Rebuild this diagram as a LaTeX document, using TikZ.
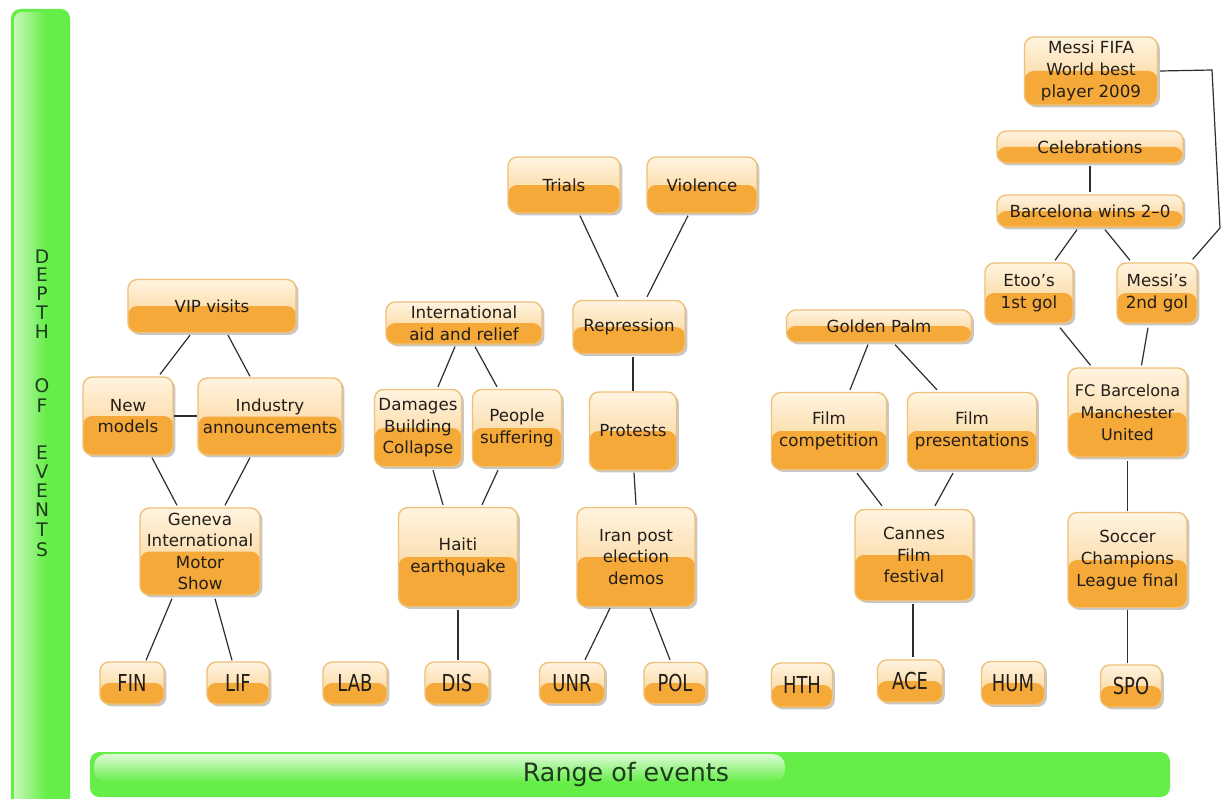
\documentclass[tikz,border=0pt]{standalone}
\usepackage{fontspec}
\setmainfont{DejaVu Sans}
\newfontfamily\codefont[FakeStretch=0.77]{DejaVu Sans}
\usetikzlibrary{calc,shadows}
\definecolor{boxTopA}{HTML}{FFF4E0}
\definecolor{boxTopB}{HTML}{F9CC86}
\definecolor{boxBot}{HTML}{F5A938}
\definecolor{boxEdge}{HTML}{F0C078}
\definecolor{txt}{HTML}{231E1A}
\definecolor{barG}{HTML}{66EE48}
\definecolor{barL}{HTML}{C6F8BC}
\definecolor{lineC}{HTML}{2E2E2E}
\definecolor{barTxt}{HTML}{1E3B1E}
\begin{document}
\begin{tikzpicture}[x=0.75pt,y=-0.75pt,
  ev/.style={rounded corners=7pt, draw=boxEdge, line width=1pt,
    top color=boxTopA, bottom color=boxTopB, inner sep=0pt, align=center,
    font=\fontsize{12.5}{16.2}\selectfont, text=txt,
    drop shadow={shadow xshift=1.8pt, shadow yshift=-1.8pt, fill=black, opacity=0.22},
    path picture={\fill[boxBot] (path picture bounding box.south west) rectangle
      ($(path picture bounding box.north east)!0.5!(path picture bounding box.south east)$);}},
  codebox/.style={ev, font=\codefont\fontsize{17.5}{17.5}\selectfont},
  sz/.style 2 args={minimum width=#1*0.75pt, minimum height=#2*0.75pt},
  conn/.style={draw=lineC, line width=0.9pt},
  letter/.style={font=\fontsize{14}{14}\selectfont, text=barTxt, inner sep=0pt}]
\fill[white] (0,0) rectangle (1222,799);
\useasboundingbox (0,0) rectangle (1222,799);

% green bars
\fill[barG, rounded corners=7] (11,9) rectangle (70,830);
\shade[left color=barL, right color=barG, rounded corners=6] (14,12) rectangle (46,830);
\fill[barG, rounded corners=7] (90,752) rectangle (1170,797);
\shade[top color=barL!60!white, bottom color=barG, rounded corners=9] (94,754) rectangle (785,782);
\node[font=\fontsize{19}{19}\selectfont, text=barTxt] (range) at (626,775) {Range of events};
\foreach \ch/\yy [count=\i] in {D/257,E/275,P/294,T/313,H/332,O/386,F/406,E/453,V/472,E/491,N/510,T/530,S/550}
  \node[letter] (dep\i) at (42,\yy) {\ch};

% left group
\node[ev,sz={168}{53}] (vip) at (212,306) {VIP visits};
\node[ev,sz={90}{78}] (nm) at (128,416) {New\\models};
\node[ev,sz={144}{77}] (ia) at (270,416.5) {Industry\\announcements};
\node[ev,sz={120}{87}] (gen) at (200,551.5) {Geneva\\International\\Motor\\Show};
\node[codebox,sz={64}{42}] (fin) at (132,683) {FIN};
\node[codebox,sz={62}{42}] (lif) at (238,683) {LIF};
\node[codebox,sz={64}{42}] (lab) at (355,683) {LAB};
\node[codebox,sz={64}{42}] (dis) at (457,683) {DIS};

% middle group
\node[ev,sz={156}{42}] (aid) at (464,323) {International\\aid and relief};
\node[ev,sz={87}{77}] (dmg) at (418,428) {Damages\\Building\\Collapse};
\node[ev,sz={89}{77}] (ppl) at (517,428) {People\\suffering};
\node[ev,sz={119}{99}] (haiti) at (458,557) {Haiti\\earthquake};
\node[ev,sz={112}{56}] (trials) at (564,185) {Trials};
\node[ev,sz={110}{56}] (viol) at (702,185) {Violence};
\node[ev,sz={112}{53}] (rep) at (629,327) {Repression};
\node[ev,sz={87}{78}] (prot) at (633,431) {Protests};
\node[ev,sz={118}{99}] (iran) at (636,557) {Iran post\\election\\demos};
\node[codebox,sz={65}{41}] (unr) at (572,683) {UNR};
\node[codebox,sz={62}{41}] (pol) at (675,683) {POL};
\node[codebox,sz={61}{44}] (hth) at (802,685) {HTH};

% right group
\node[ev,sz={185}{32}] (gp) at (879,326) {Golden Palm};
\node[ev,sz={115}{77}] (fcomp) at (829,431) {Film\\competition};
\node[ev,sz={129}{77}] (fpres) at (972,431) {Film\\presentations};
\node[ev,sz={118}{91}] (cannes) at (914,555) {Cannes\\Film\\festival};
\node[codebox,sz={65}{42}] (ace) at (910,681) {ACE};
\node[codebox,sz={63}{43}] (hum) at (1013,683) {HUM};
\node[ev,sz={133}{68}] (messiF) at (1091,71) {Messi FIFA\\World best\\player 2009};
\node[ev,sz={186}{32}] (celeb) at (1090,147) {Celebrations};
\node[ev,sz={186}{32}] (bwins) at (1090,211) {Barcelona wins 2--0};
\node[ev,sz={88}{60}] (etoo) at (1029,293) {Etoo's\\1st gol};
\node[ev,sz={80}{60}] (messi2) at (1157,293) {Messi's\\2nd gol};
\node[ev,sz={119}{89},font=\fontsize{12}{16.2}\selectfont] (fcb) at (1127.5,412.5) {FC Barcelona\\Manchester\\United};
\node[ev,sz={119}{95}] (soccer) at (1127.5,560) {Soccer\\Champions\\League final};
\node[codebox,sz={61}{42}] (spo) at (1131,686) {SPO};

% connectors left
\draw[conn] ($(vip.south)+(-22,2)$) -- ($(nm.north)+(32,-2)$);
\draw[conn] ($(vip.south)+(16,2)$) -- ($(ia.north)+(-20,-1)$);
\draw[conn] (nm.east) -- (nm.east -| ia.west);
\draw[conn] ($(nm.south)+(24,2)$) -- ($(gen.north)+(-23,-2)$);
\draw[conn] ($(ia.south)+(-20,2)$) -- ($(gen.north)+(25,-2)$);
\draw[conn] ($(gen.south)+(-28,3)$) -- ($(fin.north)+(14,-1)$);
\draw[conn] ($(gen.south)+(15,3)$) -- ($(lif.north)+(-6,-1)$);

% connectors middle
\draw[conn] ($(aid.south)+(-9,2)$) -- ($(dmg.north)+(20,-2)$);
\draw[conn] ($(aid.south)+(11,2)$) -- ($(ppl.north)+(-20,-2)$);
\draw[conn] ($(dmg.south)+(15,3)$) -- ($(haiti.north)+(-15,-2)$);
\draw[conn] ($(ppl.south)+(-19,3)$) -- ($(haiti.north)+(24,-2)$);
\draw[conn] ($(haiti.south)+(0,3)$) -- ($(haiti.south |- dis.north)+(0,-1)$);
\draw[conn] ($(trials.south)+(16,2)$) -- ($(rep.north)+(-11,-3)$);
\draw[conn] ($(viol.south)+(-14,2)$) -- ($(rep.north)+(18,-3)$);
\draw[conn] ($(rep.south)+(4,3)$) -- ($(rep.south -| prot.north)+(0,37)$);
\draw[conn] ($(prot.south)+(1,2)$) -- ($(iran.north)+(0,-2)$);
\draw[conn] ($(iran.south)+(-26,1)$) -- ($(unr.north)+(13,-2)$);
\draw[conn] ($(iran.south)+(14,1)$) -- ($(pol.north)+(-5,-2)$);

% connectors right
\draw[conn] ($(gp.south)+(-11,2)$) -- ($(fcomp.north)+(21,-2)$);
\draw[conn] ($(gp.south)+(16,2)$) -- ($(fpres.north)+(-35,-2)$);
\draw[conn] ($(fcomp.south)+(28,3)$) -- ($(cannes.north)+(-32,-3)$);
\draw[conn] ($(fpres.south)+(-19,3)$) -- ($(cannes.north)+(21,-3)$);
\draw[conn] ($(cannes.south)+(-1,3)$) -- ($(cannes.south |- ace.north)+(-1,-2)$);
\draw[conn] ($(celeb.south)+(0,2)$) -- ($(bwins.north)+(0,-2)$);
\draw[conn] ($(bwins.south)+(-13,2)$) -- ($(etoo.north)+(26,-2)$);
\draw[conn] ($(bwins.south)+(15,2)$) -- ($(messi2.north)+(-27,-2)$);
\draw[conn] ($(etoo.south)+(31,4)$) -- ($(fcb.north)+(-37,-2)$);
\draw[conn] ($(messi2.south)+(-9,4)$) -- ($(fcb.north)+(14,-2)$);
\draw[conn] ($(fcb.south)+(0,3)$) -- ($(soccer.north)+(0,-1)$);
\draw[conn] ($(soccer.south)+(0,2)$) -- ($(soccer.south |- spo.north)+(0,-1)$);
\coordinate (mA) at (1212,70);
\coordinate (mB) at (1220,228);
\draw[conn] ($(messiF.east)+(2,0)$) -- (mA) -- (mB) -- ($(messi2.north east)+(-5,-3)$);
\end{tikzpicture}
\end{document}
